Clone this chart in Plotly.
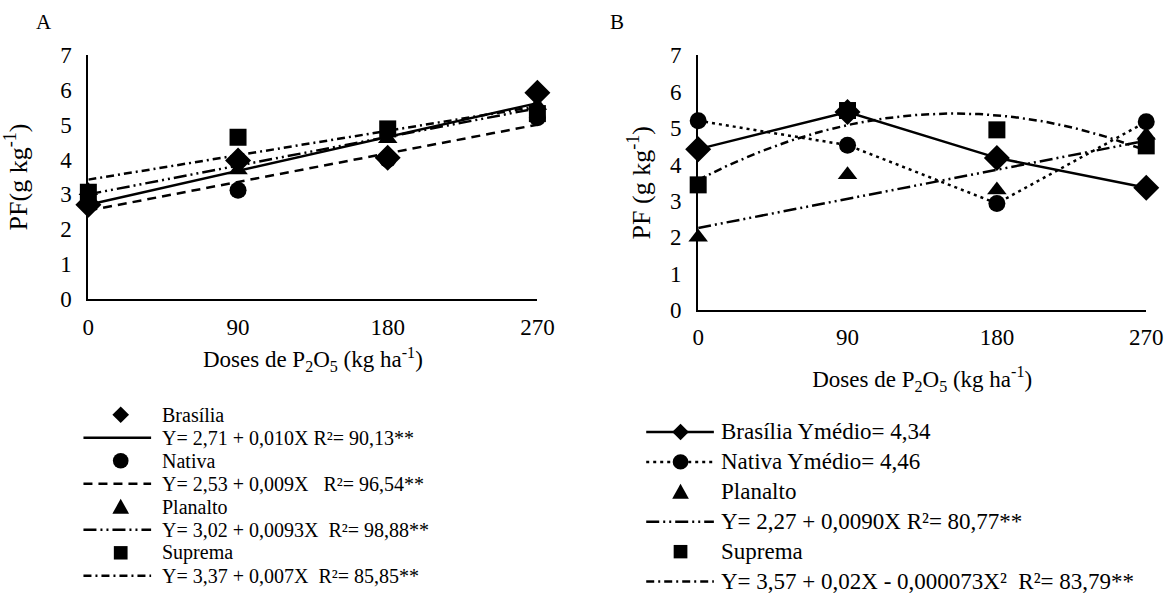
import numpy as np
import plotly.graph_objects as go

# ---------------- data ----------------
doses = [0, 90, 180, 270]
dose_ticks = ["0", "90", "180", "270"]

# Panel A
a_brasilia = [2.70, 3.97, 4.05, 5.92]
a_nativa = [2.75, 3.12, 4.00, 5.20]
a_planalto = [3.10, 3.70, 4.60, 5.55]
a_suprema = [3.06, 4.64, 4.88, 5.32]

# Panel B
b_brasilia = [4.42, 5.44, 4.18, 3.36]
b_nativa = [5.20, 4.53, 2.93, 5.17]
b_planalto = [2.00, 3.72, 3.30, 4.80]
b_suprema = [3.44, 5.48, 4.95, 4.51]

a_labels = ["Brasília", "Nativa", "Planalto", "Suprema"]
a_eqs = [
    "Y= 2,71 + 0,010X R²= 90,13**",
    "Y= 2,53 + 0,009X \u00a0 R²= 96,54**",
    "Y= 3,02 + 0,0093X \u00a0R²= 98,88**",
    "Y= 3,37 + 0,007X \u00a0R²= 85,85**",
]
b_labels = ["Brasília Ymédio= 4,34", "Nativa Ymédio= 4,46", "Planalto", "Suprema"]
b_eqs = [
    "Y= 2,27 + 0,0090X R²= 80,77**",
    "Y= 3,57 + 0,02X - 0,000073X² \u00a0R²= 83,79**",
]

FONT = "Liberation Serif, Times New Roman, serif"
BLACK = "black"
SOLID = "solid"
DASH = "9px,6px"
DOT = "3px,4px"
LDD = "13px,4px,2px,4px,2px,4px"   # long dash dot dot
DD = "8px,4px,2px,4px"             # dash dot
LW = 2.5

W, H = 1175, 608


def px(xp):
    return xp / W


def py(yp):
    return 1 - yp / H


xs = np.linspace(min(doses), max(doses), 100)


def fit(y, deg):
    c = np.polyfit(doses, y, deg)
    return np.polyval(c, xs)


fig = go.Figure()

# ---------- Panel A ----------
a_sets = [
    (a_brasilia, "diamond", 20, SOLID),
    (a_nativa, "circle", 17, DASH),
    (a_planalto, "triangle-up", 17, LDD),
    (a_suprema, "square", 17, DD),
]
for (y, sym, sz, dash), lab, eq in zip(a_sets, a_labels, a_eqs):
    fig.add_trace(go.Scatter(
        x=doses, y=y, mode="markers", name=lab, showlegend=False,
        marker=dict(symbol=sym, size=sz, color=BLACK),
        cliponaxis=False, xaxis="x", yaxis="y",
    ))
    fig.add_trace(go.Scatter(
        x=xs, y=fit(y, 1), mode="lines", name=eq, showlegend=False,
        line=dict(color=BLACK, width=LW, dash=dash),
        cliponaxis=False, xaxis="x", yaxis="y",
    ))

# ---------- Panel B ----------
fig.add_trace(go.Scatter(
    x=doses, y=b_brasilia, mode="lines+markers", name=b_labels[0], showlegend=False,
    line=dict(color=BLACK, width=LW, dash=SOLID),
    marker=dict(symbol="diamond", size=20, color=BLACK),
    cliponaxis=False, xaxis="x2", yaxis="y2",
))
fig.add_trace(go.Scatter(
    x=doses, y=b_nativa, mode="lines+markers", name=b_labels[1], showlegend=False,
    line=dict(color=BLACK, width=LW, dash=DOT),
    marker=dict(symbol="circle", size=17, color=BLACK),
    cliponaxis=False, xaxis="x2", yaxis="y2",
))
fig.add_trace(go.Scatter(
    x=doses, y=b_planalto, mode="markers", name=b_labels[2], showlegend=False,
    marker=dict(symbol="triangle-up", size=17, color=BLACK),
    cliponaxis=False, xaxis="x2", yaxis="y2",
))
fig.add_trace(go.Scatter(
    x=xs, y=fit(b_planalto, 1), mode="lines", name=b_eqs[0], showlegend=False,
    line=dict(color=BLACK, width=LW, dash=LDD),
    cliponaxis=False, xaxis="x2", yaxis="y2",
))
fig.add_trace(go.Scatter(
    x=doses, y=b_suprema, mode="markers", name=b_labels[3], showlegend=False,
    marker=dict(symbol="square", size=17, color=BLACK),
    cliponaxis=False, xaxis="x2", yaxis="y2",
))
fig.add_trace(go.Scatter(
    x=xs, y=fit(b_suprema, 2), mode="lines", name=b_eqs[1], showlegend=False,
    line=dict(color=BLACK, width=LW, dash=DD),
    cliponaxis=False, xaxis="x2", yaxis="y2",
))

# ---------- legend keys (drawn as layout shapes + text) ----------
shapes = []
annotations = []


def key_line(x0, x1, yc, dash):
    shapes.append(dict(type="line", xref="paper", yref="paper",
                       x0=px(x0), x1=px(x1), y0=py(yc), y1=py(yc),
                       line=dict(color=BLACK, width=LW, dash=dash)))


def key_marker(sym, xc, yc, r):
    style = dict(xref="paper", yref="paper", fillcolor=BLACK,
                 line=dict(color=BLACK, width=0))
    if sym == "diamond":
        path = (f"M {px(xc)} {py(yc - r)} L {px(xc + r)} {py(yc)} "
                f"L {px(xc)} {py(yc + r)} L {px(xc - r)} {py(yc)} Z")
        shapes.append(dict(type="path", path=path, **style))
    elif sym == "circle":
        shapes.append(dict(type="circle", x0=px(xc - r), x1=px(xc + r),
                           y0=py(yc + r), y1=py(yc - r), **style))
    elif sym == "square":
        shapes.append(dict(type="rect", x0=px(xc - r), x1=px(xc + r),
                           y0=py(yc + r), y1=py(yc - r), **style))
    elif sym == "triangle":
        path = (f"M {px(xc)} {py(yc - r)} L {px(xc + r)} {py(yc + r * 0.85)} "
                f"L {px(xc - r)} {py(yc + r * 0.85)} Z")
        shapes.append(dict(type="path", path=path, **style))


def key_text(x, yc, text, size):
    annotations.append(dict(text=text, x=px(x), y=py(yc), xref="paper", yref="paper",
                            xanchor="left", yanchor="middle", showarrow=False,
                            font=dict(size=size, color=BLACK)))


# legend A
A_ROW0, A_STEP, A_TX, A_MX, A_L0, A_L1, A_FS = 420, 24, 157, 117, 79, 148, 20
a_syms = ["diamond", "circle", "triangle", "square"]
a_r = [8.5, 8, 8.5, 7]
a_dash = [SOLID, DASH, LDD, DD]
for i in range(4):
    y_m = A_ROW0 + A_STEP * (2 * i)
    y_l = A_ROW0 + A_STEP * (2 * i + 1)
    key_marker(a_syms[i], A_MX, y_m, a_r[i])
    key_text(A_TX, y_m, a_labels[i], A_FS)
    key_line(A_L0, A_L1, y_l, a_dash[i])
    key_text(A_TX, y_l, a_eqs[i], A_FS)

# legend B
B_ROW0, B_STEP, B_TX, B_MX, B_L0, B_L1, B_FS = 438, 31.2, 727, 688, 653, 722, 23
b_rows = [
    ("diamond", 8.5, SOLID, b_labels[0]),
    ("circle", 8, DOT, b_labels[1]),
    ("triangle", 8.5, None, b_labels[2]),
    (None, 0, LDD, b_eqs[0]),
    ("square", 7, None, b_labels[3]),
    (None, 0, DD, b_eqs[1]),
]
for i, (sym, r, dash, txt) in enumerate(b_rows):
    yc = B_ROW0 + B_STEP * i
    if dash:
        key_line(B_L0, B_L1, yc, dash)
    if sym:
        key_marker(sym, B_MX, yc, r)
    key_text(B_TX, yc, txt, B_FS)

# panel letters
annotations.append(dict(text="A", x=px(39), y=py(10), xref="paper", yref="paper",
                        xanchor="center", yanchor="middle", showarrow=False,
                        font=dict(size=21, color=BLACK)))
annotations.append(dict(text="B", x=px(623), y=py(10), xref="paper", yref="paper",
                        xanchor="center", yanchor="middle", showarrow=False,
                        font=dict(size=21, color=BLACK)))

xt = "Doses de P<sub>2</sub>O<sub>5</sub> (kg ha<sup>-1</sup>)"

common_x = dict(
    range=[0, 270], tickvals=doses, ticktext=dose_ticks,
    showline=True, linecolor=BLACK, linewidth=2, showgrid=False, zeroline=False,
    ticks="", tickfont=dict(size=23, color=BLACK),
    title_font=dict(size=23, color=BLACK),
)
common_y = dict(
    range=[0, 7], dtick=1, tick0=0,
    showline=True, linecolor=BLACK, linewidth=2, showgrid=False, zeroline=False,
    ticks="", ticklabelstandoff=10, tickfont=dict(size=23, color=BLACK),
    title_font=dict(size=26, color=BLACK),
)

fig.update_layout(
    width=W, height=H,
    margin=dict(l=0, r=0, t=0, b=0),
    paper_bgcolor="white", plot_bgcolor="white",
    font=dict(family=FONT, color=BLACK),
    showlegend=False,
    xaxis=dict(domain=[px(84), px(542)], anchor="y", ticklabelstandoff=7,
               title=dict(text=xt, standoff=12), **common_x),
    yaxis=dict(domain=[py(299), py(45)], anchor="x",
               title=dict(text="PF(g kg<sup>-1</sup>)", standoff=26), **common_y),
    xaxis2=dict(domain=[px(706), px(1163)], anchor="y2", ticklabelstandoff=5,
                title=dict(text=xt, standoff=22), **common_x),
    yaxis2=dict(domain=[py(311), py(45)], anchor="x2",
                title=dict(text="PF (g kg<sup>-1</sup>)", standoff=12), **common_y),
    shapes=shapes,
    annotations=annotations,
)

fig.write_html("out.html")
